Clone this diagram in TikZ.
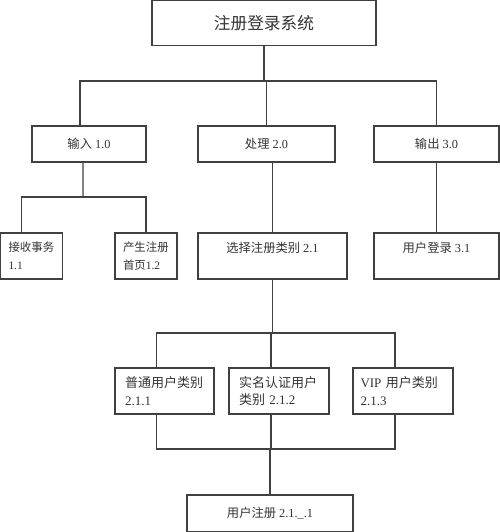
\documentclass[tikz,border=0pt]{standalone}
\usepackage{fontspec}
\setmainfont{Liberation Serif}
\newfontfamily\cjk{Noto Sans CJK SC}
\newcommand{\zh}[1]{{\cjk #1}}
\tikzset{
  box/.style={draw=black!75,line width=0.8pt,inner sep=0pt,text=black!80,font=\fontsize{7}{10}\selectfont},
  twoline/.style={box,align=left,inner xsep=0.2cm,minimum height=0.92cm},
  link/.style={draw=black!75,line width=0.8pt}
}
\begin{document}
\begin{tikzpicture}[x=0.02cm,y=-0.02cm]
      \useasboundingbox (0,0) rectangle (500,532);
      % top
      \node[box,minimum width=4.48cm,minimum height=0.9cm,font=\fontsize{9.5}{12}\selectfont](sys)at(264,23){\zh{注册登录系统}};
      % level 1
      \node[box,minimum width=2.28cm,minimum height=0.72cm](in)at(89,144){\zh{输入} 1.0};
      \node[box,minimum width=2.74cm,minimum height=0.72cm](proc)at(266.5,144){\zh{处理} 2.0};
      \node[box,minimum width=2.5cm,minimum height=0.72cm](out)at(436.5,144){\zh{输出} 3.0};
      % level 2
      \node[twoline,text width=0.92cm,inner xsep=0.16cm,minimum width=1.24cm,font=\fontsize{6.5}{10}\selectfont](recv)at(31.5,256){\zh{接收事务}\\1.1};
      \node[twoline,text width=0.92cm,inner xsep=0.16cm,minimum width=1.24cm,font=\fontsize{6.5}{10}\selectfont](page)at(146,256){\zh{产生注册}\\\zh{首页}1.2};
      \node[box,align=center,minimum width=2.98cm,minimum height=0.92cm](sel)at(272.5,256){\zh{选择注册类别} 2.1\\~};
      \node[box,align=center,minimum width=2.5cm,minimum height=0.92cm](login)at(436.5,256){\zh{用户登录} 3.1\\~};
      % level 3
      \node[twoline,text width=1.58cm,minimum width=1.98cm,font=\fontsize{7.4}{10}\selectfont](norm)at(164.5,391){\zh{普通用户类别}\\2.1.1};
      \node[twoline,text width=1.6cm,minimum width=2cm,font=\fontsize{7.4}{10}\selectfont](real)at(279,391){\zh{实名认证用户}\\\zh{类别} 2.1.2};
      \node[twoline,text width=1.7cm,inner xsep=0.15cm,minimum width=2cm,font=\fontsize{7.4}{10}\selectfont](vip)at(403,391){\mbox{VIP\ \zh{用户类别}}\\2.1.3};
      % bottom
      \node[box,minimum width=3.32cm,minimum height=0.74cm](reg)at(270,513.5){\zh{用户注册} 2.1.\_.1};
      % bars
      \coordinate(b1)at(266,81);\coordinate(b2)at(83,197);
      \coordinate(b3)at(271,333);\coordinate(b4)at(271,449);
      \draw[link](sys.south)--(sys.south|-b1);
      \draw[link]([xshift=-0.18cm]in.north)|-(out.north|-b1)--(out.north);
      \draw[link](proc.north)--(proc.north|-b1);
      \draw[link]([xshift=-0.12cm]in.south)--(b2);
      \draw[link]([xshift=-0.2cm]recv.north)|-(page.north|-b2)--(page.north);
      \draw[link](sel.north)--(sel.north|-proc.south);
      \draw[link](out.south)--(login.north);
      \draw[link](sel.south)--(sel.south|-b3);
      \foreach \n in{norm,real,vip}{
        \draw[link]([xshift=-0.16cm]\n.north)|-(b3);
        \draw[link]([xshift=-0.16cm]\n.south)|-(b4);
      }
      \draw[link](reg.north)--(reg.north|-b4);
    \end{tikzpicture}
\end{document}
